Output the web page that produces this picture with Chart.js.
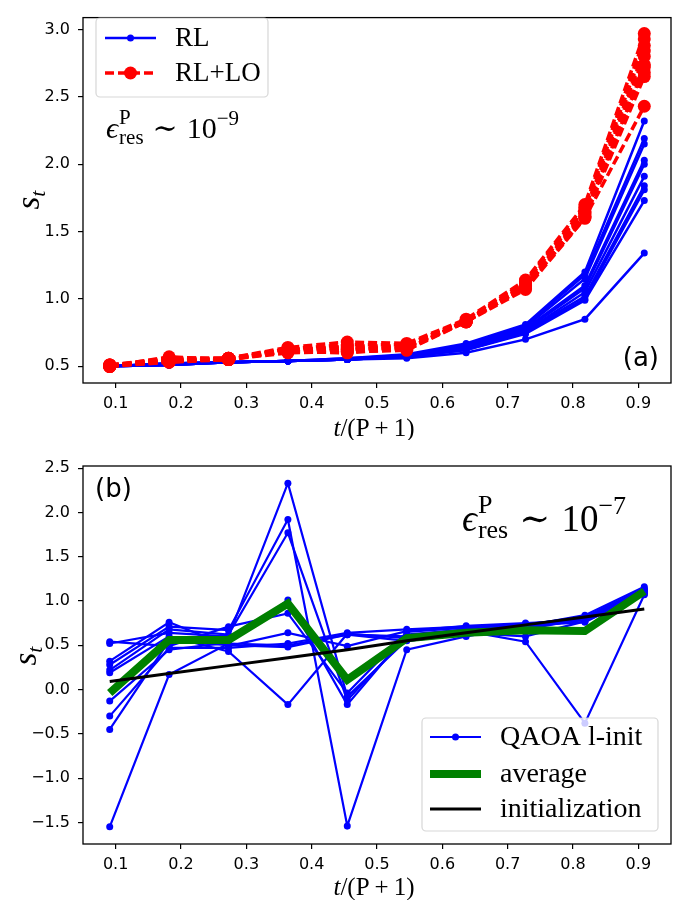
<!DOCTYPE html>
<html>
<head>
<meta charset="utf-8">
<script src="https://cdn.jsdelivr.net/npm/chart.js@4.4.0/dist/chart.umd.min.js"></script>
<style>
  html, body { margin: 0; padding: 0; background: #fff; }
  #wrap { position: relative; width: 673px; height: 900px; }
  canvas { position: absolute; left: 0; }
  #chartA { top: 0; }
  #chartB { top: 440px; }
</style>
</head>
<body>
<div id="wrap">
  <canvas id="chartA" width="673" height="440"></canvas>
  <canvas id="chartB" width="673" height="460"></canvas>
</div>
<script>
// t/(P+1) for P = 10
const xVals = [0.0909, 0.1818, 0.2727, 0.3636, 0.4545, 0.5455, 0.6364, 0.7273, 0.8182, 0.9091];
const xTicks = [0.1, 0.2, 0.3, 0.4, 0.5, 0.6, 0.7, 0.8, 0.9];
const yTicksA = [0.5, 1.0, 1.5, 2.0, 2.5, 3.0];
const yTicksB = [-1.5, -1.0, -0.5, 0.0, 0.5, 1.0, 1.5, 2.0, 2.5];

// panel (a): RL runs
const rlRuns = [
  [0.50, 0.52, 0.53, 0.54, 0.56, 0.59, 0.67, 0.81, 1.20, 2.32],
  [0.50, 0.52, 0.53, 0.54, 0.56, 0.58, 0.66, 0.80, 1.18, 2.19],
  [0.50, 0.52, 0.53, 0.54, 0.55, 0.58, 0.65, 0.79, 1.15, 2.15],
  [0.50, 0.52, 0.53, 0.54, 0.55, 0.58, 0.64, 0.78, 1.10, 2.03],
  [0.50, 0.51, 0.53, 0.54, 0.55, 0.57, 0.64, 0.77, 1.08, 2.00],
  [0.50, 0.52, 0.53, 0.54, 0.55, 0.57, 0.63, 0.76, 1.05, 1.91],
  [0.50, 0.51, 0.53, 0.54, 0.55, 0.57, 0.63, 0.76, 1.02, 1.84],
  [0.50, 0.51, 0.53, 0.54, 0.55, 0.57, 0.62, 0.75, 1.00, 1.81],
  [0.50, 0.51, 0.53, 0.54, 0.55, 0.57, 0.62, 0.74, 0.99, 1.73],
  [0.50, 0.51, 0.53, 0.54, 0.55, 0.56, 0.60, 0.70, 0.85, 1.34]
];
// panel (a): RL + local optimisation runs
const rlloRuns = [
  [0.51, 0.56, 0.56, 0.64, 0.68, 0.67, 0.85, 1.14, 1.70, 2.97],
  [0.50, 0.57, 0.55, 0.63, 0.66, 0.66, 0.84, 1.13, 1.68, 2.93],
  [0.51, 0.55, 0.56, 0.62, 0.65, 0.65, 0.84, 1.12, 1.67, 2.88],
  [0.50, 0.54, 0.55, 0.62, 0.64, 0.64, 0.83, 1.11, 1.65, 2.84],
  [0.50, 0.56, 0.56, 0.63, 0.63, 0.63, 0.84, 1.10, 1.64, 2.80],
  [0.51, 0.54, 0.55, 0.61, 0.62, 0.64, 0.83, 1.09, 1.63, 2.74],
  [0.50, 0.55, 0.55, 0.60, 0.61, 0.62, 0.84, 1.08, 1.62, 2.72],
  [0.51, 0.53, 0.56, 0.61, 0.60, 0.63, 0.83, 1.10, 1.61, 2.68],
  [0.50, 0.54, 0.55, 0.62, 0.62, 0.65, 0.83, 1.09, 1.60, 2.65],
  [0.50, 0.53, 0.55, 0.61, 0.61, 0.62, 0.83, 1.07, 1.60, 2.43]
];

// panel (b): QAOA l-init runs, their average and the initialization
const qaoaRuns = [
  [0.52, 0.64, 0.60, 2.33, -0.08, 0.56, 0.62, 0.70, 0.80, 1.12],
  [0.28, 0.71, 0.67, 1.92, -1.54, 0.45, 0.60, 0.72, 0.84, 1.16],
  [0.22, 0.68, 0.62, 1.77, -0.12, 0.60, 0.66, 0.70, 0.79, 1.11],
  [-0.13, 0.45, 0.53, 1.01, -0.17, 0.62, 0.68, 0.73, 0.82, 1.14],
  [0.54, 0.49, 0.71, 0.86, -0.04, 0.65, 0.70, 0.74, 0.81, 1.10],
  [0.32, 0.76, 0.49, 0.64, 0.49, 0.66, 0.72, 0.75, 0.78, 1.13],
  [-0.30, 0.47, 0.47, 0.52, 0.64, 0.68, 0.71, 0.72, 0.76, 1.09],
  [-0.45, 0.55, 0.50, 0.48, 0.62, 0.60, 0.64, 0.60, 0.77, 1.08],
  [0.19, 0.60, 0.43, -0.17, 0.63, 0.58, 0.66, 0.54, -0.38, 1.07],
  [-1.55, 0.17, 0.52, 0.50, 0.62, 0.55, 0.62, 0.68, 0.80, 1.10]
];
const averageVals = [-0.04, 0.56, 0.56, 0.97, 0.11, 0.58, 0.64, 0.67, 0.66, 1.11];
const initVals = [0.09, 0.18, 0.27, 0.36, 0.45, 0.55, 0.64, 0.73, 0.82, 0.91];

const BLUE = '#0000ff';
const RED = '#ff0000';
const GREEN = '#008000';
const tickFont = { family: 'DejaVu Sans', size: 16 };
const SERIF = '"Liberation Serif", "DejaVu Serif", serif';

function pts(vals) {
  return vals.map((v, i) => ({ x: xVals[i], y: v }));
}

function fmt(v) {
  return (v < 0 ? '\u2212' : '') + Math.abs(v).toFixed(1);
}

function makeScales(yMin, yMax, yTicks, xHeight) {
  return {
    x: {
      type: 'linear', min: 0.05, max: 0.95,
      afterBuildTicks: s => { s.ticks = xTicks.map(v => ({ value: v })); },
      afterFit: s => { s.height = xHeight; },
      ticks: { font: tickFont, color: '#000', padding: 6, maxRotation: 0, autoSkip: false, callback: v => fmt(v) },
      grid: { drawOnChartArea: false, drawTicks: true, tickLength: 5, color: '#000', lineWidth: 1.2 },
      border: { display: false }
    },
    y: {
      type: 'linear', min: yMin, max: yMax,
      afterBuildTicks: s => { s.ticks = yTicks.map(v => ({ value: v })); },
      afterFit: s => { s.width = 83; },
      ticks: { font: tickFont, color: '#000', padding: 8, autoSkip: false, callback: v => fmt(v) },
      grid: { drawOnChartArea: false, drawTicks: true, tickLength: 5, color: '#000', lineWidth: 1.2 },
      border: { display: false }
    }
  };
}

// draw a run of text pieces; a piece can carry a stacked sup/sub pair
function drawRich(ctx, x, y, parts) {
  let cx = x;
  ctx.textBaseline = 'alphabetic';
  ctx.textAlign = 'left';
  parts.forEach(p => {
    if (p.stack) {
      ctx.font = p.font;
      ctx.fillText(p.stack[0], cx, y + p.up);
      ctx.fillText(p.stack[1], cx, y + p.down);
      cx += Math.max(ctx.measureText(p.stack[0]).width, ctx.measureText(p.stack[1]).width) + (p.gap || 0);
    } else {
      ctx.font = p.font;
      ctx.fillText(p.t, cx, y + (p.dy || 0));
      cx += ctx.measureText(p.t).width + (p.gap || 0);
    }
  });
  return cx - x;
}

function richWidth(ctx, parts) {
  let w = 0;
  parts.forEach(p => {
    ctx.font = p.font;
    if (p.stack) w += Math.max(ctx.measureText(p.stack[0]).width, ctx.measureText(p.stack[1]).width);
    else w += ctx.measureText(p.t).width;
    w += p.gap || 0;
  });
  return w;
}

function epsParts(main, small, power) {
  return [
    { t: '\u03f5', font: 'italic ' + main + 'px ' + SERIF, gap: 1 },
    { stack: ['P', 'res'], font: small + 'px ' + SERIF, up: -main * 0.48, down: main * 0.2, gap: main * 0.3 },
    { t: '\u223c', font: main + 'px ' + SERIF, gap: main * 0.3 },
    { t: '10', font: main + 'px ' + SERIF },
    { t: '\u2212' + power, font: small + 'px ' + SERIF, dy: -main * 0.45 }
  ];
}

function xLabelParts() {
  return [
    { t: 't', font: 'italic 25px ' + SERIF },
    { t: '/(P', font: '25px ' + SERIF, gap: 5 },
    { t: '+', font: '25px ' + SERIF, gap: 5 },
    { t: '1)', font: '25px ' + SERIF }
  ];
}

function drawYLabel(ctx, cx, cy) {
  ctx.save();
  ctx.translate(cx, cy);
  ctx.rotate(-Math.PI / 2);
  ctx.fillStyle = '#000';
  const parts = [
    { t: 's', font: 'italic 33px ' + SERIF },
    { t: 't', font: 'italic 22px ' + SERIF, dy: 6 }
  ];
  const w = richWidth(ctx, parts);
  drawRich(ctx, -w / 2, 9, parts);
  ctx.restore();
}

function legendBox(ctx, x, y, w, h) {
  ctx.save();
  ctx.beginPath();
  ctx.roundRect(x, y, w, h, 4);
  ctx.fillStyle = 'rgba(255,255,255,0.8)';
  ctx.fill();
  ctx.strokeStyle = 'rgba(204,204,204,0.8)';
  ctx.lineWidth = 1.2;
  ctx.stroke();
  ctx.restore();
}

function handle(ctx, x0, x1, y, color, width, dash, marker) {
  ctx.save();
  ctx.strokeStyle = color;
  ctx.lineWidth = width;
  ctx.setLineDash(dash || []);
  ctx.beginPath();
  ctx.moveTo(x0, y);
  ctx.lineTo(x1, y);
  ctx.stroke();
  if (marker) {
    ctx.fillStyle = color;
    ctx.beginPath();
    ctx.arc((x0 + x1) / 2, y, marker, 0, Math.PI * 2);
    ctx.fill();
  }
  ctx.restore();
}

function frame(chart) {
  const a = chart.chartArea;
  const ctx = chart.ctx;
  ctx.save();
  ctx.strokeStyle = '#000';
  ctx.lineWidth = 1.3;
  ctx.strokeRect(a.left, a.top, a.right - a.left, a.bottom - a.top);
  ctx.restore();
}

const decorA = {
  id: 'decorA',
  afterDraw(chart) {
    const ctx = chart.ctx;
    const a = chart.chartArea;
    frame(chart);
    ctx.save();
    ctx.fillStyle = '#000';
    // legend
    legendBox(ctx, 96, 18, 172, 79);
    handle(ctx, 105, 156, 38, BLUE, 2.5, null, 3.5);
    handle(ctx, 105, 156, 73, RED, 3.5, [9, 4], 6.5);
    ctx.fillStyle = '#000';
    ctx.font = '27px ' + SERIF;
    ctx.textBaseline = 'middle';
    ctx.fillText('RL', 175, 39);
    ctx.fillText('RL+LO', 175, 74);
    // annotation
    drawRich(ctx, 106, 138, epsParts(30, 21, '9'));
    // panel tag
    ctx.font = '26px "DejaVu Sans"';
    ctx.textAlign = 'right';
    ctx.textBaseline = 'middle';
    ctx.fillText('(a)', 659, 359);
    // axis labels
    const xp = xLabelParts();
    const w = richWidth(ctx, xp);
    drawRich(ctx, (a.left + a.right) / 2 - w / 2 - 3, 436, xp);
    ctx.restore();
    drawYLabel(ctx, 30, 200);
  }
};

const decorB = {
  id: 'decorB',
  afterDraw(chart) {
    const ctx = chart.ctx;
    const a = chart.chartArea;
    frame(chart);
    ctx.save();
    // legend (panel offset 440)
    legendBox(ctx, 422, 278, 236, 113);
    handle(ctx, 430, 481, 297, BLUE, 2.2, null, 3.5);
    handle(ctx, 430, 481, 334, GREEN, 8, null, 0);
    handle(ctx, 430, 481, 369, '#000', 3, null, 0);
    ctx.fillStyle = '#000';
    ctx.font = '28px ' + SERIF;
    ctx.textBaseline = 'middle';
    ctx.fillText('QAOA l-init', 500, 298);
    ctx.fillText('average', 500, 335);
    ctx.fillText('initialization', 500, 370);
    // annotation
    drawRich(ctx, 462, 91, epsParts(37, 26, '7'));
    // panel tag
    ctx.font = '26px "DejaVu Sans"';
    ctx.textAlign = 'left';
    ctx.textBaseline = 'middle';
    ctx.fillText('(b)', 95, 50);
    const xp = xLabelParts();
    const w = richWidth(ctx, xp);
    drawRich(ctx, (a.left + a.right) / 2 - w / 2 - 3, 455, xp);
    ctx.restore();
    drawYLabel(ctx, 27, 216);
  }
};

const datasetsA = [];
rlRuns.forEach(run => {
  datasetsA.push({
    data: pts(run), borderColor: BLUE, backgroundColor: BLUE, borderWidth: 2.5,
    pointRadius: 3.5, pointBorderWidth: 0, pointBackgroundColor: BLUE, order: 2, tension: 0
  });
});
rlloRuns.forEach(run => {
  datasetsA.push({
    data: pts(run), borderColor: RED, backgroundColor: RED, borderWidth: 3.5, borderDash: [9, 4],
    pointRadius: 6.5, pointBorderWidth: 0, pointBackgroundColor: RED, order: 1, tension: 0
  });
});

const datasetsB = [];
qaoaRuns.forEach(run => {
  datasetsB.push({
    data: pts(run), borderColor: BLUE, backgroundColor: BLUE, borderWidth: 2.2,
    pointRadius: 3.5, pointBorderWidth: 0, pointBackgroundColor: BLUE, order: 3, tension: 0
  });
});
datasetsB.push({
  data: pts(averageVals), borderColor: GREEN, borderWidth: 8, pointRadius: 0,
  borderJoinStyle: 'miter', order: 2, tension: 0
});
datasetsB.push({
  data: pts(initVals), borderColor: '#000', borderWidth: 3, pointRadius: 0, order: 1, tension: 0
});

const common = {
  responsive: false,
  animation: false,
  devicePixelRatio: 1,
  events: [],
  plugins: { legend: { display: false }, tooltip: { enabled: false } }
};

new Chart(document.getElementById('chartA'), {
  type: 'line',
  data: { datasets: datasetsA },
  options: Object.assign({}, common, {
    layout: { autoPadding: false, padding: { left: 0, top: 5, right: 2, bottom: 0 } },
    scales: makeScales(0.376, 3.088, yTicksA, 57)
  }),
  plugins: [decorA]
});

new Chart(document.getElementById('chartB'), {
  type: 'line',
  data: { datasets: datasetsB },
  options: Object.assign({}, common, {
    layout: { autoPadding: false, padding: { left: 0, top: 26, right: 2, bottom: 0 } },
    scales: makeScales(-1.744, 2.524, yTicksB, 56)
  }),
  plugins: [decorB]
});
</script>
</body>
</html>
